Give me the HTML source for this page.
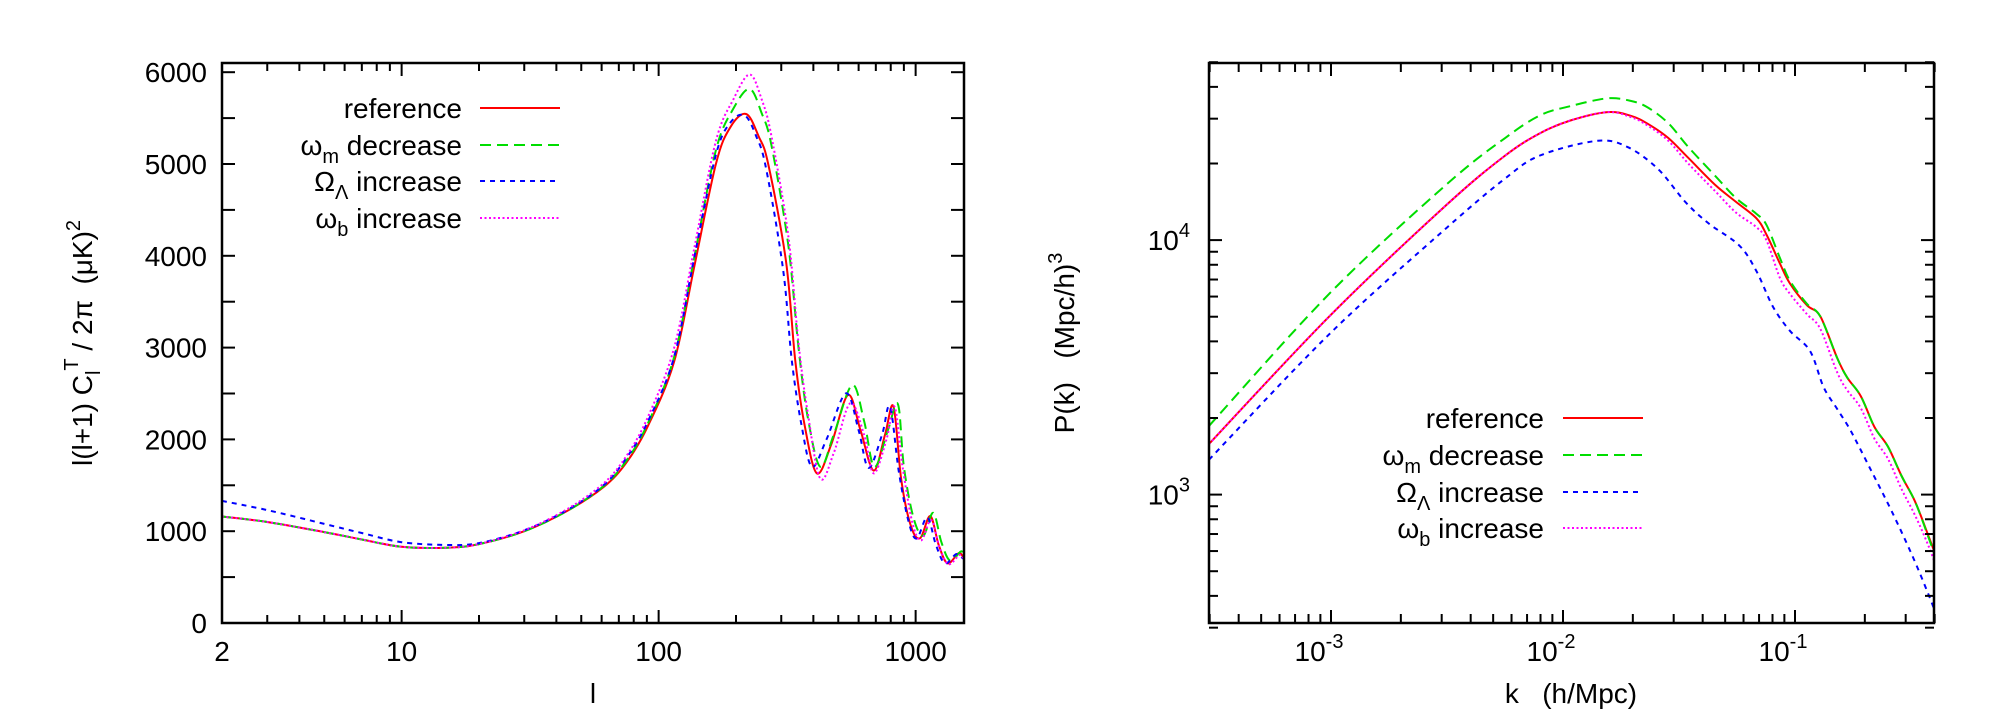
<!DOCTYPE html>
<html><head><meta charset="utf-8"><style>
html,body{margin:0;padding:0;background:#fff}
svg{display:block;font-family:"Liberation Sans",sans-serif}
</style></head><body>
<svg id="svg" width="1990" height="728" viewBox="0 0 1990 728" xmlns="http://www.w3.org/2000/svg">
<defs>
<clipPath id="clipL"><rect x="222" y="63" width="742" height="560"/></clipPath>
<clipPath id="clipR"><rect x="1209" y="63" width="725" height="560"/></clipPath>
</defs>
<g id="left"></g>
<g id="right"></g>
<text xml:space="preserve" transform="translate(92,343) rotate(-90)" text-anchor="middle" font-size="28">l(l+1) C<tspan font-size="20" dy="8">l</tspan><tspan font-size="20" dy="-22">T</tspan><tspan dy="14"> / 2π  (μK)</tspan><tspan font-size="20" dy="-12">2</tspan></text>
<text x="593" y="703" text-anchor="middle" font-size="28">l</text>
<text xml:space="preserve" transform="translate(1074,343) rotate(-90)" text-anchor="middle" font-size="28">P(k)   (Mpc/h)<tspan font-size="20" dy="-12">3</tspan></text>
<text x="1571" y="703" text-anchor="middle" font-size="28" xml:space="preserve">k   (h/Mpc)</text>
</svg>
<script>
// ---- Left panel data (CMB temperature spectrum) ----
const lRef=[2,3,5,7,10,15,20,30,44,61,75,91,115,138,167,190,219,245,267,313,340,370,413,470,546,610,687,760,820,880,960,1042,1140,1230,1330,1470,1530];
const dRef=[1160,1100,990,910,830,820,860,1000,1220,1480,1750,2150,2850,3900,5000,5400,5545,5300,5000,3940,2865,2150,1630,1950,2484,2100,1660,2050,2357,1550,1050,925,1165,850,650,760,720];
const lWm=[2,3,5,7,10,15,20,30,44,61,75,91,115,138,167,195,226,252,275,320,350,380,425,480,566,630,691,780,853,900,980,1070,1170,1260,1360,1500,1530];
const dWm=[1160,1100,990,910,830,820,860,1000,1220,1490,1770,2180,2900,4000,5150,5600,5817,5550,5200,4100,3000,2250,1703,2050,2593,2200,1700,2100,2385,1700,1150,950,1200,880,680,780,740];
const lOl=[2,3,5,7,10,15,20,30,44,61,75,91,115,138,167,190,216,240,262,305,330,360,395,450,536,600,656,740,795,860,940,1010,1110,1200,1300,1440,1530];
const dOl=[1330,1230,1080,980,880,850,870,1010,1230,1500,1800,2200,2900,4000,5100,5450,5530,5300,4950,3850,2850,2150,1703,2000,2502,2100,1690,2050,2357,1650,1100,920,1150,850,650,750,700];
const lWb=[2,3,5,7,10,15,20,30,44,61,75,91,115,138,167,195,226,252,275,320,350,380,425,480,556,630,687,770,828,890,970,1050,1150,1240,1340,1480,1530];
const dWb=[1160,1100,990,910,830,820,860,1010,1240,1520,1820,2250,3000,4100,5250,5700,5975,5700,5300,4200,3050,2300,1576,1850,2393,2050,1630,2000,2357,1700,1100,900,1120,820,640,740,710];
const lTicks=[2,10,100,1000];
const lTickLabels=["2","10","100","1000"];
const dTicks=[0,1000,2000,3000,4000,5000,6000];
// ---- Right panel data (matter power spectrum) ----
const kMain=[2.98e-4,1e-3,3.16e-3,5.6e-3,7.96e-3,0.01076,0.01556,0.01968,0.0232,0.02844,0.03475,0.0455,0.0557,0.0681,0.0753,0.0861,0.0951,0.1125,0.1285,0.152,0.168,0.192,0.220,0.252,0.288,0.329,0.376,0.416];
const pRef=[1581,5093,13800,21400,26300,29500,31840,30760,28640,25180,20990,16410,14130,12190,10520,8090,6760,5550,5020,3440,2880,2440,1845,1540,1183,940,689,538];
const pWm=[1862,6250,16600,25100,30900,33600,36060,35200,33190,28800,23170,17800,14620,12700,11480,8510,6920,5620,5010,3440,2880,2440,1845,1540,1183,940,680,525];
const pWb=[1581,5093,13800,21400,26300,29500,31840,30400,28180,24550,19950,15490,12830,11250,10000,7100,6150,5120,4480,3020,2570,2190,1660,1380,1050,830,630,490];
const kOl=[2.98e-4,1e-3,3.16e-3,5.6e-3,7.96e-3,0.01409,0.01905,0.0257,0.03365,0.04256,0.0575,0.0681,0.0805,0.0951,0.1161,0.1327,0.152,0.1738,0.2128,0.26,0.3177,0.376,0.416];
const pOl=[1371,4335,11200,17400,21500,24550,23170,19010,14130,11610,9530,7570,5460,4400,3670,2650,2170,1782,1245,867,585,406,318];
const kTicks=[1e-3,1e-2,1e-1];
const kTickExp=["-3","-2","-1"];
const pTicks=[1e3,1e4];
const pTickExp=["3","4"];

const NS="http://www.w3.org/2000/svg";
function mk(tag,attrs,parent){const e=document.createElementNS(NS,tag);for(const k in attrs)e.setAttribute(k,attrs[k]);parent.appendChild(e);return e;}
const L={x0:222,x1:964,y0:623,y1:63};
const R={x0:1209,x1:1934,y0:623,y1:63};
const lMin=2,lMax=1520;
const xL=v=>L.x0+(Math.log10(v)-Math.log10(lMin))*257;
const yL=v=>623-(v/1000)*91.8;
const kMin=2.98e-4;
const xR=v=>1331+(Math.log10(v)+3)*232;
const yR=v=>494.6-(Math.log10(v)-3)*254.5;

function smoothPath(pts){
  let d="M"+pts[0][0].toFixed(1)+","+pts[0][1].toFixed(1);
  for(let i=0;i<pts.length-1;i++){
    const p0=pts[Math.max(0,i-1)],p1=pts[i],p2=pts[i+1],p3=pts[Math.min(pts.length-1,i+2)];
    const c1=[p1[0]+(p2[0]-p0[0])/6,p1[1]+(p2[1]-p0[1])/6];
    const c2=[p2[0]-(p3[0]-p1[0])/6,p2[1]-(p3[1]-p1[1])/6];
    d+="C"+c1[0].toFixed(1)+","+c1[1].toFixed(1)+" "+c2[0].toFixed(1)+","+c2[1].toFixed(1)+" "+p2[0].toFixed(1)+","+p2[1].toFixed(1);
  }
  return d;
}
const styles={
  ref:{stroke:"#ff0000",dash:""},
  wm:{stroke:"#00dd00",dash:"11,6"},
  ol:{stroke:"#0000ff",dash:"5,5"},
  wb:{stroke:"#ff00ff",dash:"2,2.5"}
};
const gL=document.getElementById('left'), gR=document.getElementById('right');

function drawSeries(g,xs,ys,xf,yf,st,name,clip){
  const pts=xs.map((v,i)=>[xf(v),yf(ys[i])]);
  const p=mk('path',{d:smoothPath(pts),fill:"none",stroke:st.stroke,"stroke-width":2,"stroke-dasharray":st.dash,"clip-path":"url(#"+clip+")"},g);
  
  
}
drawSeries(gL,lRef,dRef,xL,yL,styles.ref,'cmb-reference-line','clipL');
drawSeries(gL,lWm,dWm,xL,yL,styles.wm,'cmb-omega-m-decrease-line','clipL');
drawSeries(gL,lOl,dOl,xL,yL,styles.ol,'cmb-omega-lambda-increase-line','clipL');
drawSeries(gL,lWb,dWb,xL,yL,styles.wb,'cmb-omega-b-increase-line','clipL');
drawSeries(gR,kMain,pRef,xR,yR,styles.ref,'pk-reference-line','clipR');
drawSeries(gR,kMain,pWm,xR,yR,styles.wm,'pk-omega-m-decrease-line','clipR');
drawSeries(gR,kOl,pOl,xR,yR,styles.ol,'pk-omega-lambda-increase-line','clipR');
drawSeries(gR,kMain,pWb,xR,yR,styles.wb,'pk-omega-b-increase-line','clipR');

function tickLine(g,x1,y1,x2,y2){mk('line',{x1,y1,x2,y2,stroke:"#000","stroke-width":2},g);}
for(let dec=1;dec<=1000;dec*=10){for(let m=1;m<10;m++){const v=dec*m;if(v<lMin||v>lMax)continue;const x=xL(v);const len=(m===1)?13:8;tickLine(gL,x,L.y0,x,L.y0-len);tickLine(gL,x,L.y1,x,L.y1+len);}}
lTicks.forEach((v,i)=>{const t=mk('text',{x:xL(v),y:661,"text-anchor":"middle","font-size":28},gL);t.textContent=lTickLabels[i];
  
  });
for(let v=0;v<=6000;v+=500){const y=yL(v);tickLine(gL,L.x0,y,L.x0+13,y);tickLine(gL,L.x1,y,L.x1-13,y);}
dTicks.forEach(v=>{const t=mk('text',{x:207,y:yL(v)+10,"text-anchor":"end","font-size":28},gL);t.textContent=String(v);
  
  });
const fL=mk('rect',{x:L.x0,y:L.y1,width:L.x1-L.x0,height:L.y0-L.y1,fill:"none",stroke:"#000","stroke-width":2.5},gL);


for(let dec=1e-4;dec<1;dec*=10){for(let m=1;m<10;m++){const v=dec*m;if(v<kMin||v>0.416)continue;const x=xR(v);const len=(m===1)?13:9;tickLine(gR,x,R.y0,x,R.y0-len);tickLine(gR,x,R.y1,x,R.y1+len);}}
for(let dec=100;dec<1e5;dec*=10){for(let m=1;m<10;m++){const v=dec*m;if(v<300||v>50000)continue;const y=yR(v);const len=(m===1)?13:9;tickLine(gR,R.x0,y,R.x0+len,y);tickLine(gR,R.x1,y,R.x1-len,y);}}
kTicks.forEach((v,i)=>{const t=mk('text',{x:xR(v)-12,y:661,"text-anchor":"middle","font-size":28},gR);t.textContent="10";
  const s=mk('tspan',{"font-size":20,dy:-13},t);s.textContent=kTickExp[i];
  
  });
pTicks.forEach((v,i)=>{const t=mk('text',{x:1190,y:yR(v)+10,"text-anchor":"end","font-size":28},gR);t.textContent="10";
  const s=mk('tspan',{"font-size":20,dy:-13},t);s.textContent=pTickExp[i];
  
  });
const fR=mk('rect',{x:R.x0,y:R.y1,width:R.x1-R.x0,height:R.y0-R.y1,fill:"none",stroke:"#000","stroke-width":2.5},gR);



const legendLabels=[["reference",""],["ω","m"," decrease"],["Ω","Λ"," increase"],["ω","b"," increase"]];
const legendKeys=["ref","wm","ol","wb"];
function legend(g,xr,lx0,lx1,rows,prefix){
  legendKeys.forEach((k,i)=>{
    const y=rows[i];const lab=legendLabels[i];
    const t=mk('text',{x:xr,y:y+10,"text-anchor":"end","font-size":28},g);
    
    
    if(lab.length===2){t.textContent=lab[0];}
    else{const a=mk('tspan',{},t);a.textContent=lab[0];const b=mk('tspan',{"font-size":20,dy:8},t);b.textContent=lab[1];const c=mk('tspan',{dy:-8},t);c.textContent=lab[2];}
    const ln=mk('line',{x1:lx0,y1:y,x2:lx1,y2:y,stroke:styles[k].stroke,"stroke-width":2,"stroke-dasharray":styles[k].dash},g);
    
    
  });
}
legend(gL,462,480,560,[108,145,181,218],'left');
legend(gR,1544,1563,1643,[418,455,492,528],'right');
</script>
</body></html>
